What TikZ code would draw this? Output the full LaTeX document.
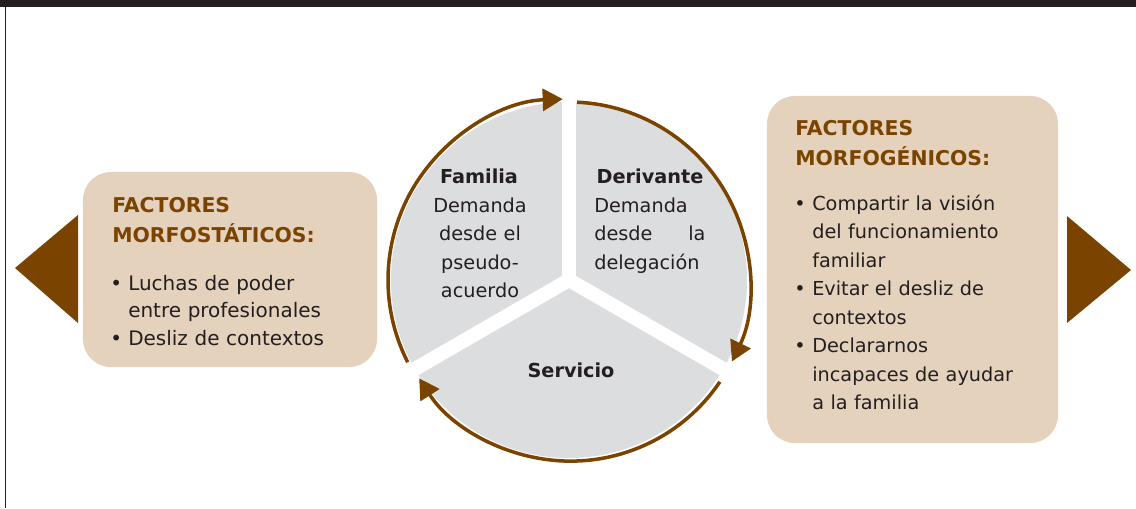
\documentclass[tikz,border=0pt]{standalone}
\usepackage{fontspec}
\setmainfont{DejaVu Sans}
\usetikzlibrary{arrows.meta}
\definecolor{cafe}{RGB}{122,68,0}
\definecolor{arena}{RGB}{229,210,189}
\definecolor{gris}{RGB}{220,221,223}
\definecolor{tinta}{RGB}{35,31,32}
\newcommand{\cuerpo}{\fontsize{13.7}{20.3}\selectfont}
\newcommand{\titulo}{\fontsize{14.5}{21.7}\selectfont\bfseries}
\newcommand{\vin}{\makebox[0.45cm][l]{\textbullet}}
\newcommand{\sangr}{\hspace*{0.45cm}}

\begin{document}
\begin{tikzpicture}[x=0.025cm,y=-0.025cm]
  \tikzset{ caja/.style={fill=arena,rounded corners=0.7cm,inner sep=0pt},
    txt/.style={text=tinta,font=\cuerpo,align=left,inner sep=0pt,anchor=base west,text width=6cm},
    cab/.style={text=cafe,font=\titulo,align=left,inner sep=0pt,anchor=base west,text width=6cm},
    flecha/.style={draw=cafe,line width=2.5pt,-{Triangle[length=0.5cm,width=0.55cm]}},
    hueco/.style={white,line width=10pt},
  }
  \useasboundingbox (0,0) rectangle (1136,508);
  % the frame
  \fill[tinta] (0,0) rectangle (1136,7);
  \draw[tinta,line width=0.9pt] (5.5,7) -- (5.5,508);

  % the two boxes
  \node[caja,minimum width=7.35cm,minimum height=4.875cm] (mstat) at (230,269.5) {};
  \node[caja,minimum width=7.275cm,minimum height=8.675cm] (mgen) at (912.5,269.5) {};
  \fill[cafe] (78,215) -- (15,268) -- (78,323) -- cycle;
  \fill[cafe] (1067,216) -- (1131,270) -- (1067,323) -- cycle;

  \node[cab,font=\fontsize{14.5}{22}\selectfont\bfseries] (tstat) at (112,212) {FACTORES\\MORFOSTÁTICOS:};
  \node[txt,font=\fontsize{14.2}{19.6}\selectfont] (lstat) at (110,290)
    {\vin Luchas de poder\\\sangr entre profesionales\\\vin Desliz de contextos};
  \node[cab] (tgen) at (795,135) {FACTORES\\MORFOGÉNICOS:};
  \node[txt] (lgen) at (794,210)
    {\vin Compartir la visión\\\sangr del funcionamiento\\\sangr familiar\\
     \vin Evitar el desliz de\\\sangr contextos\\\vin Declararnos\\
     \sangr incapaces de ayudar\\\sangr a la familia};

  % the pie
  \coordinate (centro) at (569,280);
  \fill[gris] (centro) circle (178);
  \draw[hueco] (centro) -- ++(270:190);
  \draw[hueco] (centro) -- ++(150:190);
  \draw[hueco] (centro) -- ++(30:190);

  \node[txt,font=\fontsize{13.7}{20.3}\selectfont\bfseries,text width=,anchor=base] (fam) at (479,183) {Familia};
  \node[txt,text width=3cm,align=center,anchor=base] (dfam) at (480,212)
    {Demanda\\desde el\\pseudo-\\acuerdo};
  \node[txt,font=\fontsize{13.7}{20.3}\selectfont\bfseries,text width=,anchor=base] (der) at (650,183) {Derivante};
  \node[txt,text width=2.78cm] (dder) at (594,212)
    {Demanda\\desde\hfill la\\delegación};
  \node[txt,font=\fontsize{13.7}{20.3}\selectfont\bfseries,text width=,anchor=base] (serv) at (571,377) {Servicio};

  % the arrows round the pie
  \draw[flecha] (centro) ++(153:181) arc[start angle=153,end angle=268,radius=181];
  \draw[flecha] (centro) ++(272.6:178) arc[start angle=272.6,end angle=385.7,radius=181];
  \draw[flecha] (centro) ++(34:182) arc[start angle=34,end angle=147.3,radius=180];
\end{tikzpicture}
\end{document}
